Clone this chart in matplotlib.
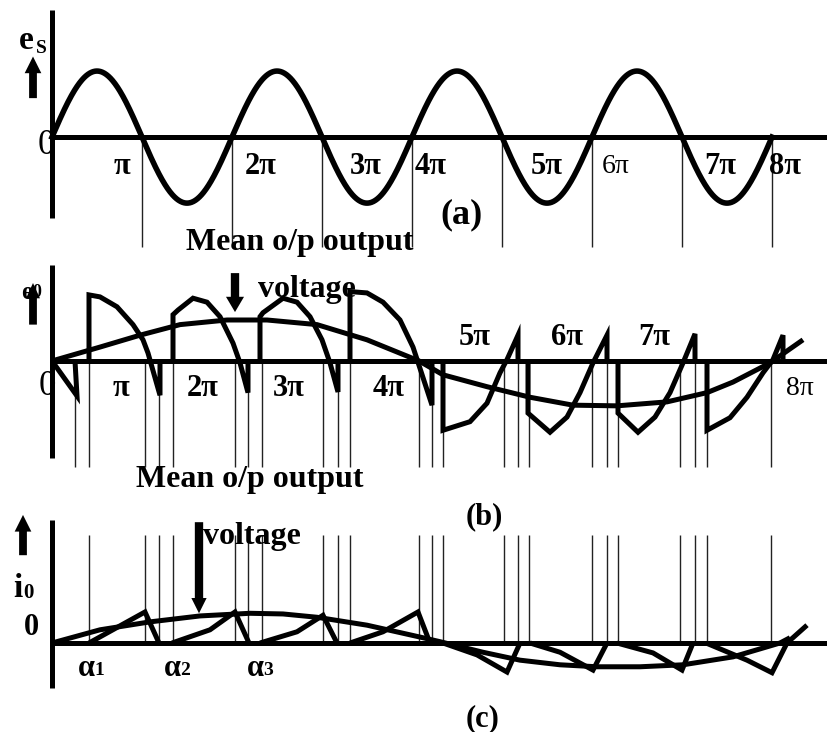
import matplotlib.pyplot as plt
import numpy as np

plt.rcParams['font.family'] = ['Liberation Serif', 'DejaVu Serif']

# x: wt in degrees, y: percent of supply peak
es_peak = 100
es_end = 1440
half_cycles = [180, 360, 540, 720, 900, 1080, 1260, 1440]

labels_a = ['π', '2π', '3π', '4π', '5π', '6π', '7π', '8π']
labels_a_x = [140, 418, 628, 758, 990, 1128, 1336, 1466]

# firing / commutation instants (b) and (c)
switch_b = [46, 74, 186, 214, 242, 366, 392, 420, 542, 572, 596, 734, 760, 782,
            904, 932, 954, 1080, 1110, 1132, 1256, 1286, 1310, 1438]
switch_c = switch_b[1:]

# output voltage pieces (b)
eo_x = [
    [0, 50, 46],
    [74, 74, 96, 130, 162, 182, 192, 216, 216],
    [242, 242, 252, 282, 310, 336, 362, 376, 392, 392],
    [416, 416, 422, 462, 490, 516, 540, 556, 572, 572],
    [596, 596, 630, 662, 696, 722, 732, 760, 760],
    [782, 782, 836, 870, 896, 910, 932, 932],
    [952, 952, 996, 1030, 1056, 1082, 1110, 1110],
    [1132, 1132, 1172, 1206, 1236, 1262, 1286, 1286],
    [1310, 1310, 1356, 1390, 1422, 1442, 1462, 1462],
]
eo_y = [
    [0, -53, 0],
    [0, 100, 97, 82, 55, 32, 12, -52, 0],
    [0, 70, 77, 95, 89, 67, 27, -3, -48, 0],
    [0, 67, 73, 95, 89, 67, 32, -3, -47, 0],
    [0, 105, 103, 89, 62, 21, -2, -67, 0],
    [0, -105, -92, -64, -18, 2, 39, 0],
    [0, -79, -108, -85, -48, -3, 39, 0],
    [0, -79, -108, -85, -48, -3, 41, 0],
    [0, -105, -86, -55, -18, 2, 39, 0],
]
mean_b_x = [0, 96, 176, 256, 350, 430, 530, 630, 734, 782, 870, 956, 1042,
            1130, 1230, 1310, 1362, 1436, 1502]
mean_b_y = [0, 21, 39, 55, 62, 62, 55, 32, 0, -21, -39, -55, -67,
            -68, -62, -48, -32, -3, 32]
labels_b = ['π', '2π', '3π', '4π', '5π', '6π', '7π']
labels_b_x = [138, 302, 474, 674, 846, 1030, 1204]
labels_b_y = [-42, -41, -41, -41, 35, 35, 35]

# output current pieces (c)
io_x = [
    [74, 186, 214],
    [240, 316, 366, 394],
    [416, 490, 542, 570],
    [596, 662, 732, 756],
    [782, 850, 910, 936],
    [956, 1016, 1082, 1110],
    [1130, 1202, 1260, 1282],
    [1308, 1390, 1440, 1470, 1510],
]
io_y = [
    [0, 47, 0],
    [0, 20, 47, 0],
    [0, 17, 42, 0],
    [0, 17, 47, 0],
    [0, -18, -44, 0],
    [0, -14, -41, 0],
    [0, -15, -41, 0],
    [0, -26, -45, 0, 27],
]
mean_c_x = [0, 96, 196, 296, 396, 462, 530, 630, 736, 776, 862, 936, 1016,
            1090, 1176, 1262, 1362, 1456, 1476]
mean_c_y = [0, 20, 32, 41, 45, 44, 39, 27, 9, 2, -14, -26, -33,
            -36, -36, -33, -21, 0, 8]
alpha_x = [68, 240, 406]

W, H = 827, 732
fig = plt.figure(figsize=(W / 100, H / 100), dpi=100)
ax_a = fig.add_axes([0, 1 - 250 / H, 1, 250 / H])
ax_b = fig.add_axes([0, 1 - 500 / H, 1, 250 / H])
ax_c = fig.add_axes([0, 0, 1, 232 / H])
ax_a.set_ylim(-171, 207.6)
ax_b.set_ylim(-210.6, 168)
ax_c.set_ylim(-134.8, 216.6)
for ax in (ax_a, ax_b, ax_c):
    ax.set_xlim(-104, 1550)
    ax.axis('off')
    ax.patch.set_visible(False)

thick = dict(color='black', lw=3.6, solid_capstyle='butt', solid_joinstyle='miter', clip_on=False)
thin = dict(colors='#222222', lw=1.0, clip_on=False)
bold = dict(fontweight='bold', ha='center', va='center', color='black')


def arrow(ax, x, y0, y1, hw, hl, tw):
    ax.annotate('', xy=(x, y1), xytext=(x, y0),
                arrowprops=dict(arrowstyle=f'simple,head_length={hl},head_width={hw},tail_width={tw}',
                                mutation_scale=20, shrinkA=0, shrinkB=0, color='black', lw=0))


# ---- (a) supply voltage
ax_a.vlines(half_cycles, -167, 0, **thin)
ax_a.plot([0, 1550], [0, 0], **thick)
ax_a.plot([0, 0], [-123, 192], **thick)
wt = np.linspace(0, es_end, 1441)
ax_a.plot(wt, es_peak * np.sin(np.radians(wt)), color='black', lw=4, clip_on=False)
for x, s in zip(labels_a_x, labels_a):
    if s == '6π':
        ax_a.text(x, -44, s, fontsize=20, ha='center', va='center')
    else:
        ax_a.text(x, -44, s, fontsize=22, **bold)
ax_a.text(-12, -12, '0', fontsize=25, ha='center', va='center')
ax_a.text(-52, 147, 'e', fontsize=24, **bold)
ax_a.text(-22, 134, 'S', fontsize=14, **bold)
arrow(ax_a, -38, 59, 122, 0.6, 0.6, 0.28)
ax_a.text(820, -118, '(a)', fontsize=26, **bold)
ax_a.text(496, -160, 'Mean o/p output', fontsize=23, **bold)

# ---- (b) output voltage
ax_b.vlines(switch_b, -160, 0, **thin)
ax_b.plot([0, 1550], [0, 0], **thick)
ax_b.plot([0, 0], [-147, 145], **thick)
for xs, ys in zip(eo_x, eo_y):
    ax_b.plot(xs, ys, **thick)
ax_b.plot(mean_b_x, mean_b_y, **thick)
for x, y, s in zip(labels_b_x, labels_b_y, labels_b):
    ax_b.text(x, y, s, fontsize=22, **bold)
ax_b.text(1496, -41, '8π', fontsize=20, ha='center', va='center')
ax_b.text(-10, -39, '0', fontsize=25, ha='center', va='center')
arrow(ax_b, -38, 55, 118, 0.5, 0.55, 0.28)
ax_b.text(-50, 103, 'e', fontsize=18, **bold)
ax_b.text(-30, 103, '0', fontsize=13, **bold)
ax_b.text(510, 108, 'voltage', fontsize=23, **bold)
arrow(ax_b, 366, 133, 74, 0.65, 0.55, 0.3)
ax_b.text(396, -180, 'Mean o/p output', fontsize=23, **bold)

# ---- (c) output current
ax_c.vlines(switch_c, 0, 164, **thin)
ax_c.plot([0, 1550], [0, 0], **thick)
ax_c.plot([0, 0], [-68, 186], **thick)
for xs, ys in zip(io_x, io_y):
    ax_c.plot(xs, ys, **thick)
ax_c.plot(mean_c_x, mean_c_y, **thick)
arrow(ax_c, -58, 133, 194, 0.6, 0.6, 0.28)
ax_c.text(-68, 83, 'i', fontsize=24, **bold)
ax_c.text(-48, 76, '0', fontsize=15, **bold)
ax_c.text(-42, 24, '0', fontsize=22, **bold)
for k, x in enumerate(alpha_x):
    ax_c.text(x, -38, 'α', fontsize=22, **bold)
    ax_c.text(x + 26, -42, str(k + 1), fontsize=14, **bold)
ax_c.text(400, 162, 'voltage', fontsize=23, **bold)
arrow(ax_c, 294, 183, 45, 0.55, 0.55, 0.3)
ax_c.text(864, 191, '(b)', fontsize=22, **bold)
ax_c.text(862, -115, '(c)', fontsize=22, **bold)

fig.savefig('out.png', dpi=100)
